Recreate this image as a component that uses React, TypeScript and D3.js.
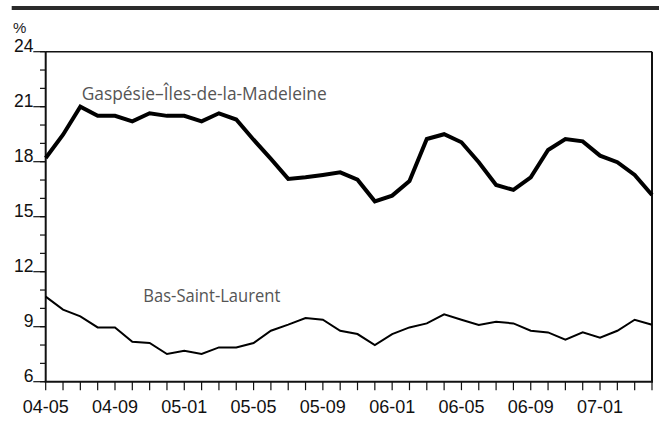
import React from "react";
import * as d3 from "d3";

const months = [
  "04-05","04-06","04-07","04-08","04-09","04-10","04-11","04-12",
  "05-01","05-02","05-03","05-04","05-05","05-06","05-07","05-08",
  "05-09","05-10","05-11","05-12","06-01","06-02","06-03","06-04",
  "06-05","06-06","06-07","06-08","06-09","06-10","06-11","06-12",
  "07-01","07-02","07-03","07-04",
];
const labeledMonths = ["04-05","04-09","05-01","05-05","05-09","06-01","06-05","06-09","07-01"];

const gaspesie = [
  18.2, 19.47, 21.0, 20.5, 20.5, 20.2, 20.64, 20.5, 20.5, 20.2, 20.64, 20.3,
  19.2, 18.15, 17.06, 17.15, 17.28, 17.42, 17.02, 15.84, 16.15, 16.95, 19.24, 19.5,
  19.06, 17.97, 16.73, 16.46, 17.15, 18.64, 19.24, 19.11, 18.33, 17.97, 17.28, 16.18,
];
const basSaintLaurent = [
  10.64, 9.93, 9.56, 8.96, 8.96, 8.18, 8.11, 7.51, 7.69, 7.51, 7.87, 7.87,
  8.11, 8.78, 9.11, 9.47, 9.38, 8.78, 8.6, 8.0, 8.6, 8.96, 9.18, 9.67,
  9.38, 9.09, 9.27, 9.18, 8.78, 8.69, 8.29, 8.69, 8.4, 8.78, 9.38, 9.11,
];
const yMajorTicks = [6, 9, 12, 15, 18, 21, 24];
const yMinorTicks = d3.range(6, 25, 1);

export default function App() {
  const left = 45.7, right = 652, top = 51.7, bottom = 381.7;
  const x = d3.scaleLinear().domain([0, months.length - 1]).range([left, right]);
  const y = d3.scaleLinear().domain([6, 24]).range([bottom, top]);
  const line = d3.line<number>().x((_, i) => x(i)).y((d) => y(d));
  const axisFont = "'Liberation Sans', Arial, sans-serif";
  const labelFont = "'Open Sans', sans-serif";

  return (
    <svg width={659} height={425} style={{ position: "absolute", left: 0, top: 0, background: "#fff" }}>
      <rect x={11.7} y={6} width={659 - 11.7} height={4} fill="#2b2b2b" />
      <text x={13} y={33} fontFamily={axisFont} fontSize={15} fill="#222">%</text>

      {/* frame */}
      <line x1={left} x2={right} y1={top} y2={top} stroke="#111" strokeWidth={1.5} />
      <line x1={right} x2={right} y1={top} y2={bottom} stroke="#111" strokeWidth={2} />
      <line x1={left} x2={left} y1={top} y2={bottom} stroke="#111" strokeWidth={2} />
      <line x1={left - 1} x2={right + 1} y1={bottom} y2={bottom} stroke="#111" strokeWidth={2} />

      {/* y ticks */}
      {yMinorTicks.map((t) => (
        <line key={"m" + t} x1={40} x2={left} y1={y(t)} y2={y(t)} stroke="#111" strokeWidth={1.2} />
      ))}
      {yMajorTicks.map((t) => (
        <g key={"M" + t}>
          <line x1={33.3} x2={left} y1={y(t)} y2={y(t)} stroke="#111" strokeWidth={1.2} />
          <text x={33.5} y={y(t)} textAnchor="end" fontFamily={axisFont} fontSize={17.5} fill="#111">{t}</text>
        </g>
      ))}

      {/* x ticks */}
      {months.map((m, i) => (
        <line key={m} x1={x(i)} x2={x(i)} y1={bottom} y2={bottom + 8.5} stroke="#111" strokeWidth={1.2} />
      ))}
      {months.map((m, i) =>
        labeledMonths.includes(m) ? (
          <text key={"l" + m} x={x(i)} y={413.3} textAnchor="middle" fontFamily={axisFont} fontSize={18} fill="#111">{m}</text>
        ) : null
      )}

      <path d={line(gaspesie) || ""} fill="none" stroke="#000" strokeWidth={4} strokeLinejoin="miter" />
      <path d={line(basSaintLaurent) || ""} fill="none" stroke="#000" strokeWidth={2} />

      <text x={81.7} y={100} fontFamily={labelFont} fontSize={17.5} fill="#555" textLength={245} lengthAdjust="spacingAndGlyphs">Gaspésie–Îles-de-la-Madeleine</text>
      <text x={143.3} y={301.7} fontFamily={labelFont} fontSize={17.5} fill="#555" textLength={137} lengthAdjust="spacingAndGlyphs">Bas-Saint-Laurent</text>
    </svg>
  );
}
